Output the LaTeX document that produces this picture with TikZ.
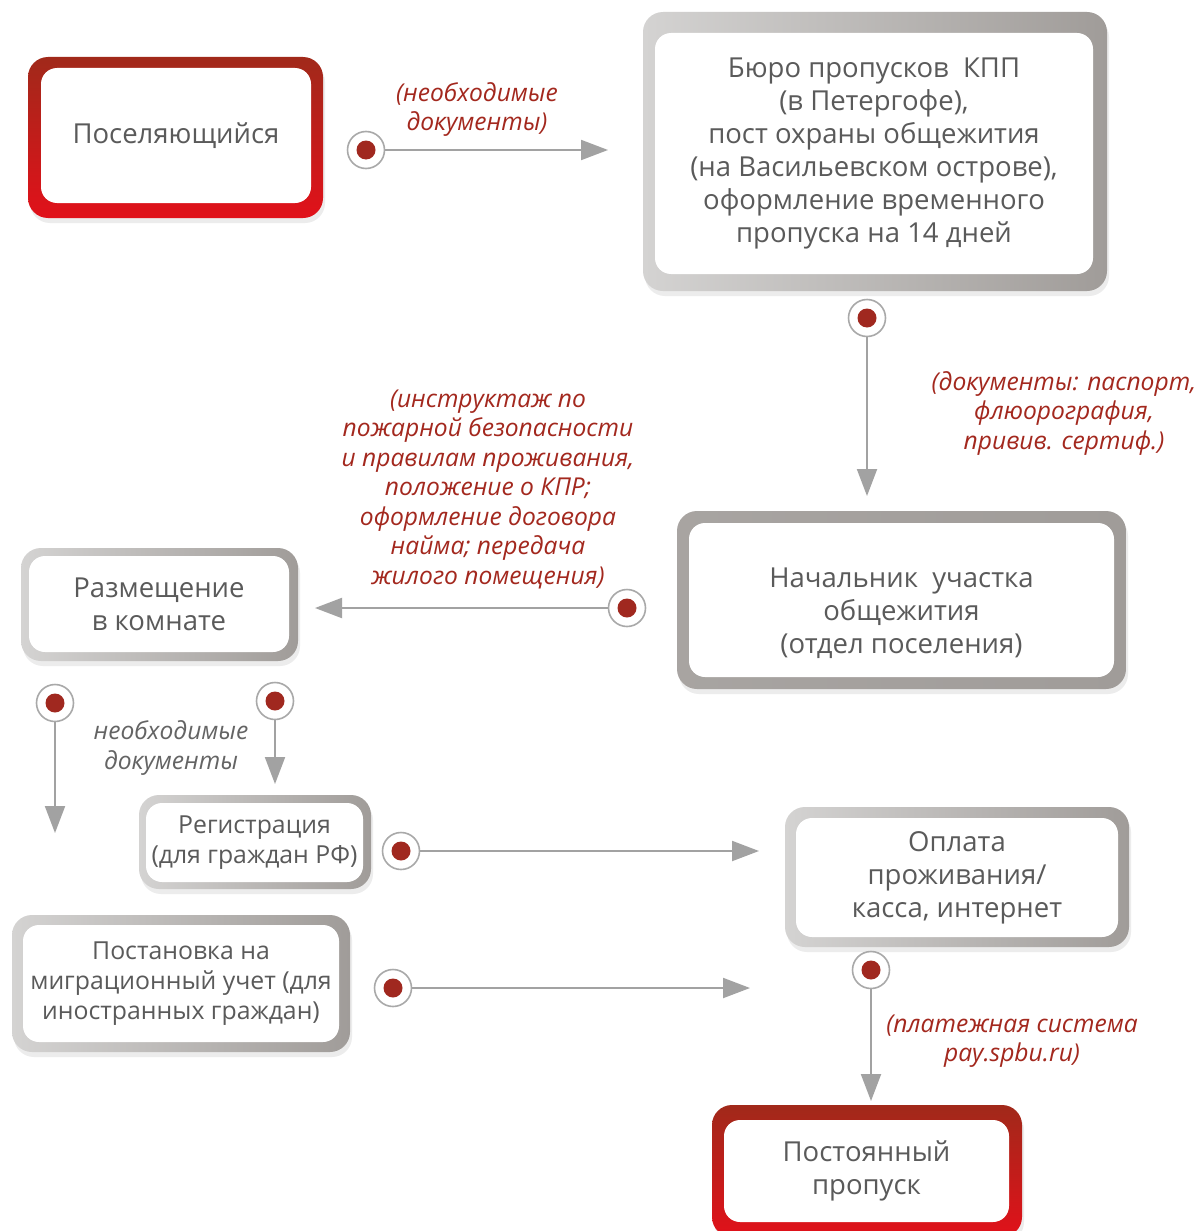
\documentclass[tikz,border=0pt]{standalone}
\usepackage{fontspec}
\setmainfont{Open Sans}
\usepackage{tikz}
\usetikzlibrary{arrows.meta}
\usetikzlibrary{shadows}
\definecolor{boxtext}{HTML}{5A5A5A}
\definecolor{notered}{HTML}{A3281E}
\definecolor{notegrey}{HTML}{646464}
\definecolor{dotred}{HTML}{A0281F}
\definecolor{ringgrey}{HTML}{A9A9A9}
\definecolor{linkgrey}{HTML}{A2A2A2}
\definecolor{frameL}{HTML}{D4D3D2}
\definecolor{frameR}{HTML}{A09C99}
\definecolor{redtop}{HTML}{A1291A}
\definecolor{redbot}{HTML}{E1111A}
\tikzset{
 boxframe/.style={rounded corners=20pt, inner sep=0pt, outer sep=0pt,
   drop shadow={shadow xshift=2pt, shadow yshift=-5pt, opacity=.15}},
 greyframe/.style={boxframe, left color=frameL, right color=frameR},
 redframe/.style={boxframe, top color=redtop, bottom color=redbot},
 stagetext/.style={align=center, text=boxtext, font=\fontsize{27.5}{33}\selectfont},
 stage/.style={stagetext, fill=white, rounded corners=16pt, inner sep=0pt},
 smallstage/.style={stage, font=\fontsize{24.8}{30}\selectfont},
 note/.style={align=center, text=notered, font=\itshape\fontsize{24.6}{29.5}\selectfont},
 dot/.style={circle, draw=ringgrey, line width=1.6pt, fill=white, minimum size=37pt,
   inner sep=0pt, path picture={\fill[dotred] (path picture bounding box.center) circle (9.5pt);}},
 link/.style={draw=linkgrey, line width=2pt, -{Triangle[length=27pt,width=20pt]}},
}

\begin{document}
\begin{tikzpicture}[x=1pt, y=-1pt]
\fill[white] (0,0) rectangle (1198,1231);
\useasboundingbox (0,0) rectangle (1198,1231);

\node[redframe, minimum width=295pt, minimum height=161pt] (settlerF) at (175.5,137.5) {};
\node[stage, minimum width=270pt, minimum height=135pt] (settler) at (176,135.5) {Поселяющийся};

\node[greyframe, minimum width=464pt, minimum height=279pt] (bureauF) at (875,151.5) {};
\node[stage, minimum width=438pt, minimum height=241pt] (bureau) at (874,153.5)
 {Бюро пропусков~~КПП\\(в Петергофе),\\пост охраны общежития\\(на Васильевском острове),\\оформление временного\\пропуска на 14 дней};

\node[greyframe, left color=frameR!85!frameL, minimum width=449pt, minimum height=178pt] (headF) at (901.5,600) {};
\node[stage, minimum width=425pt, minimum height=154pt,
 label={[stagetext, yshift=-13pt]center:{Начальник~~участка\\общежития\\(отдел поселения)}}] (head) at (901.5,600) {};

\node[greyframe, minimum width=277pt, minimum height=113pt] (roomF) at (159.5,604.5) {};
\node[stage, minimum width=260pt, minimum height=96pt] (room) at (159,604) {Размещение\\в комнате};

\node[greyframe, minimum width=232pt, minimum height=94pt] (regF) at (255,842) {};
\node[smallstage, minimum width=217pt, minimum height=79pt] (reg) at (254.5,842.5) {Регистрация\\(для граждан РФ)};

\node[greyframe, minimum width=338pt, minimum height=137pt] (migrF) at (181,983.5) {};
\node[smallstage, minimum width=316pt, minimum height=117pt] (migr) at (181,983.5)
 {Постановка на\\миграционный учет (для\\иностранных граждан)};

\node[greyframe, minimum width=344pt, minimum height=140pt] (payF) at (957,877) {};
\node[stage, minimum width=322pt, minimum height=119pt] (pay) at (957,877.5)
 {Оплата\\проживания/\\касса, интернет};

\node[redframe, minimum width=310pt, minimum height=132pt] (permF) at (867,1171) {};
\node[stage, minimum width=285pt, minimum height=102pt] (perm) at (866.5,1171) {Постоянный\\пропуск};

\foreach \n/\x/\y in {d1/366/150, d2/867/318, d3/627/608, d4/55/703,
                      d5/275/701, d6/401/851, d7/393/988, d8/871/970}
  \node[dot] (\n) at (\x,\y) {};
\foreach \n/\x/\y in {t1/608/150, t2/867/496, t3/315/608, t4/55/833,
                      t5/275/784, t6/759/851, t7/750/988, t8/871/1101}
  \coordinate (\n) at (\x,\y);
\foreach \i in {1,...,8}
  \draw[link] (d\i) -- (t\i);

\node[note] (n1) at (477,109.5) {(необходимые\\документы)};
\node[note] (n2) at (1064,413) {(документы: паспорт,\\флюорография,\\привив. сертиф.)};
\node[note] (n3) at (488,489) {(инструктаж по\\пожарной безопасности\\и правилам проживания,\\положение о КПР;\\оформление договора\\найма; передача\\жилого помещения)};
\node[note, text=notegrey] (n5) at (171,748) {необходимые\\документы};
\node[note] (n8) at (1012,1041) {(платежная система\\pay.spbu.ru)};
\end{tikzpicture}
\end{document}
